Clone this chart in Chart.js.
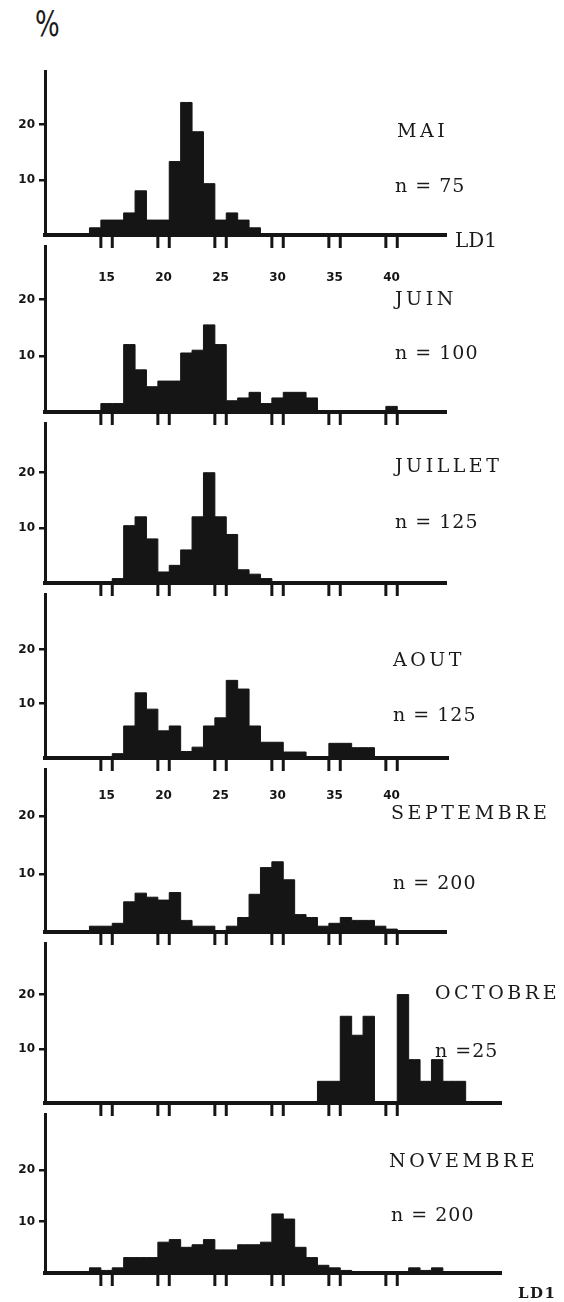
<!DOCTYPE html>
<html>
<head>
<meta charset="utf-8">
<script src="https://cdn.jsdelivr.net/npm/chart.js@4.4.1/dist/chart.umd.min.js"></script>
<style>
  html, body { margin: 0; padding: 0; background: #fff; }
  #fig { position: relative; width: 564px; height: 1302px; overflow: hidden; background: #fff; }
  #fig canvas { position: absolute; left: 0; }
  .lbl {
    position: absolute;
    font-family: "DejaVu Serif", serif;
    font-size: 19px;
    line-height: 19px;
    letter-spacing: 3.5px;
    color: #1a1a1a;
    white-space: pre;
  }
  .pct {
    position: absolute; left: 35px; top: 11px;
    font-family: "DejaVu Sans", sans-serif; font-size: 26px; line-height: 26px;
    color: #1a1a1a; transform: scaleY(1.35);
  }
  .axname { position: absolute; font-family: "DejaVu Serif", serif; color: #1a1a1a; white-space: pre; }
</style>
</head>
<body>
<div id="fig"></div>

<script>
/* ========= DATA ========= */

// classes de LD1 (centre de chaque classe)
const ld1Classes = [13, 14, 15, 16, 17, 18, 19, 20, 21, 22, 23, 24, 25, 26, 27, 28, 29, 30,
                    31, 32, 33, 34, 35, 36, 37, 38, 39, 40, 41, 42, 43, 44, 45, 46, 47];

const months = ["MAI", "JUIN", "JUILLET", "AOUT", "SEPTEMBRE", "OCTOBRE", "NOVEMBRE"];
const sampleLabels = ["n = 75", "n = 100", "n = 125", "n = 125", "n = 200", "n =25", "n = 200"];

// % par classe
const maiPct = [0, 1.3, 2.7, 2.7, 4.0, 8.0, 2.7, 2.7, 13.3, 24.0, 18.7, 9.3, 2.7, 4.0, 2.7, 1.3,
                0, 0, 0, 0, 0, 0, 0, 0, 0, 0, 0, 0, 0, 0, 0, 0, 0, 0, 0];
const juinPct = [0, 0, 1.5, 1.5, 12, 7.5, 4.5, 5.5, 5.5, 10.5, 11, 15.5, 12, 2, 2.5, 3.5, 1.5, 2.5,
                 3.5, 3.5, 2.5, 0, 0, 0, 0, 0, 0, 1, 0, 0, 0, 0, 0, 0, 0];
const juilletPct = [0, 0, 0, 0.8, 10.4, 12, 8, 2, 3.2, 6, 12, 20, 12, 8.8, 2.4, 1.6, 0.8,
                    0, 0, 0, 0, 0, 0, 0, 0, 0, 0, 0, 0, 0, 0, 0, 0, 0, 0];
const aoutPct = [0, 0, 0, 0.8, 5.9, 12, 9, 5, 5.9, 1.2, 2, 5.9, 7.4, 14.3, 12.7, 5.9, 2.9, 2.9,
                 1.1, 1.1, 0, 0, 2.7, 2.7, 1.9, 1.9, 0, 0, 0, 0, 0, 0, 0, 0, 0];
const septembrePct = [0, 1, 1, 1.5, 5.2, 6.7, 6, 5.5, 6.8, 2, 1, 1, 0, 1, 2.5, 6.5, 11.1, 12.1,
                      9, 3, 2.5, 1, 1.5, 2.5, 2, 2, 1, 0.5, 0, 0, 0, 0, 0, 0, 0];
const octobrePct = [0, 0, 0, 0, 0, 0, 0, 0, 0, 0, 0, 0, 0, 0, 0, 0, 0, 0, 0, 0, 0,
                    4, 4, 16, 12.5, 16, 0, 0, 20, 8, 4, 8, 4, 4, 0];
const novembrePct = [0, 1, 0.5, 1, 3, 3, 3, 6, 6.5, 5, 5.5, 6.5, 4.5, 4.5, 5.5, 5.5, 6, 11.5,
                     10.5, 5, 3, 1.5, 1, 0.5, 0, 0, 0, 0, 0, 1, 0.5, 1, 0, 0, 0];

const monthSeries = [maiPct, juinPct, juilletPct, aoutPct, septembrePct, octobrePct, novembrePct];

const xTickValues = [15, 20, 25, 30, 35, 40];
const yTickValues = [10, 20];


/* ========= LAYOUT ========= */

const INK = "#151515";
const AXIS_X = 45;        // position de l'axe vertical
const AXIS_TOP = 60;
const X_MIN = 9.6;
const PX_PER_UNIT = 11.4;
const BOTTOM_H = 52;

// base = ligne zero, y20 = graduation 20
const layout = [
  { base: 235,  y20: 117,  right: 446, titleX: 397, titleY: 130,  nX: 395, nY: 185,  xLabels: true,  pad: 28 },
  { base: 412,  y20: 292,  right: 446, titleX: 395, titleY: 298,  nX: 395, nY: 352,  xLabels: false, pad: 0 },
  { base: 583,  y20: 465,  right: 446, titleX: 395, titleY: 465,  nX: 395, nY: 521,  xLabels: false, pad: 0 },
  { base: 758,  y20: 642,  right: 448, titleX: 393, titleY: 659,  nX: 393, nY: 714,  xLabels: true,  pad: 23 },
  { base: 932,  y20: 808,  right: 446, titleX: 391, titleY: 812,  nX: 393, nY: 882,  xLabels: false, pad: 0 },
  { base: 1103, y20: 987,  right: 501, titleX: 435, titleY: 992,  nX: 435, nY: 1050, xLabels: false, pad: 0 },
  { base: 1273, y20: 1163, right: 501, titleX: 389, titleY: 1160, nX: 391, nY: 1214, xLabels: false, pad: 0 }
];

const fig = document.getElementById("fig");


/* ========= DOUBLE TICKS ========= */

const doubleTicks = {
  id: "doubleTicks",
  afterDraw(chart) {
    const { ctx } = chart;
    const x = chart.scales.x;
    const y0 = chart.chartArea.bottom;
    ctx.save();
    ctx.strokeStyle = INK;
    ctx.lineWidth = 3;
    xTickValues.forEach(v => {
      [v - 0.5, v + 0.5].forEach(edge => {
        const px = x.getPixelForValue(edge);
        ctx.beginPath();
        ctx.moveTo(px, y0);
        ctx.lineTo(px, y0 + 13);
        ctx.stroke();
      });
    });
    ctx.restore();
  }
};


/* ========= PANELS ========= */

function addText(cls, text, left, centerY, size) {
  const el = document.createElement("div");
  el.className = cls;
  el.textContent = text;
  el.style.left = left + "px";
  el.style.top = Math.round(centerY - 0.48 * size) + "px";
  fig.appendChild(el);
  return el;
}

function buildPanel(i) {
  const p = layout[i];
  const top = i === 0 ? AXIS_TOP : layout[i - 1].base;
  const areaH = p.base - top;
  const ppu = (p.base - p.y20) / 20;

  const canvas = document.createElement("canvas");
  canvas.width = 564;
  canvas.height = areaH + BOTTOM_H;
  canvas.style.top = top + "px";
  fig.appendChild(canvas);

  const values = monthSeries[i];

  new Chart(canvas, {
    type: "line",
    data: {
      datasets: [{
        data: ld1Classes.map((c, k) => ({ x: c, y: values[k] })),
        stepped: "middle",
        fill: "origin",
        backgroundColor: INK,
        borderColor: INK,
        borderWidth: 1,
        pointRadius: 0
      }]
    },
    options: {
      responsive: false,
      animation: false,
      events: [],
      layout: { padding: { left: 0, top: 0, bottom: 0, right: 564 - p.right } },
      plugins: {
        legend: { display: false },
        tooltip: { enabled: false }
      },
      scales: {
        x: {
          type: "linear",
          min: X_MIN,
          max: X_MIN + (p.right - AXIS_X) / PX_PER_UNIT,
          afterFit: s => { s.height = BOTTOM_H; },
          afterBuildTicks: s => { s.ticks = xTickValues.map(v => ({ value: v })); },
          grid: { display: false },
          border: { display: true, width: 4, color: INK },
          ticks: {
            display: p.xLabels,
            padding: p.pad,
            autoSkip: false,
            maxRotation: 0,
            color: INK,
            font: { family: "DejaVu Sans", size: 12, weight: "bold" }
          }
        },
        y: {
          min: 0,
          max: areaH / ppu,
          afterFit: s => { s.width = AXIS_X; },
          afterBuildTicks: s => { s.ticks = yTickValues.map(v => ({ value: v })); },
          grid: {
            display: true,
            drawOnChartArea: false,
            drawTicks: true,
            tickLength: 6,
            tickWidth: 2.5,
            tickColor: INK,
            lineWidth: 2.5
          },
          border: { display: true, width: 3, color: INK },
          ticks: {
            padding: 4,
            color: INK,
            font: { family: "DejaVu Sans", size: 12, weight: "bold" }
          }
        }
      }
    },
    plugins: [doubleTicks]
  });

  addText("lbl", months[i], p.titleX, p.titleY, 19);
  addText("lbl", sampleLabels[i], p.nX, p.nY, 19).style.letterSpacing = "1px";
}


/* ========= INIT ========= */

layout.forEach((_, i) => buildPanel(i));

const pct = document.createElement("div");
pct.className = "pct";
pct.textContent = "%";
fig.appendChild(pct);

const ldTop = addText("axname", "LD1", 455, 240, 20);
ldTop.style.fontSize = "20px";
ldTop.style.lineHeight = "20px";

const ldBottom = addText("axname", "LD1", 518, 1293, 15);
ldBottom.style.fontSize = "15px";
ldBottom.style.lineHeight = "15px";
ldBottom.style.fontWeight = "bold";
ldBottom.style.letterSpacing = "1.5px";
</script>
</body>
</html>
